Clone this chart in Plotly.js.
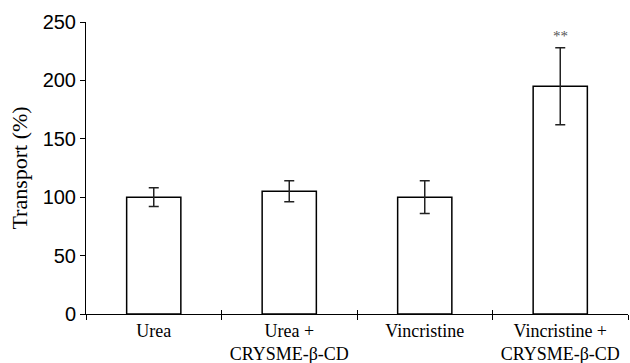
<!DOCTYPE html>
<html><head><meta charset="utf-8">
<script src="https://cdn.plot.ly/plotly-3.0.1.min.js"></script>
<style>html,body{margin:0;padding:0;background:#fff}#chart{width:630px;height:363px}</style>
</head><body><div id="chart"></div>
<script>
const categories = ["Urea", "Urea +<br>CRYSME-β-CD", "Vincristine", "Vincristine +<br>CRYSME-β-CD"];
const transport = [100, 105, 100, 195];
const errors = [8, 9, 14, 33];
const significance = ["", "", "", "**"];
const yTicks = [0, 50, 100, 150, 200, 250];
const boundaries = [-0.5, 0.5, 1.5, 2.5, 3.5];

const SERIF = "'Liberation Serif', 'Times New Roman', Times, serif";
const SANS = "'Liberation Sans', Arial, Helvetica, sans-serif";

const trace = {
  type: "bar", x: categories, y: transport,
  width: 0.4,
  marker: {color: "#ffffff", line: {color: "#000000", width: 1.5}},
  error_y: {type: "data", array: errors, visible: true, color: "#222", thickness: 1.5, width: 5},
  hoverinfo: "none"
};

const annotations = [];
categories.forEach((c, i) => {
  if (significance[i]) annotations.push({
    x: c, y: transport[i] + errors[i], xref: "x", yref: "y",
    text: significance[i], showarrow: false, yshift: 12,
    font: {family: SERIF, size: 15, color: "#555"}
  });
});

const layout = {
  width: 630, height: 363,
  margin: {l: 86, r: 2, t: 22, b: 49},
  paper_bgcolor: "#fff", plot_bgcolor: "#fff",
  showlegend: false,
  font: {family: SERIF, color: "#000"},
  xaxis: {
    type: "category", range: [-0.5, 3.5], showgrid: false, zeroline: false,
    showline: true, linecolor: "#000", linewidth: 1,
    ticks: "", ticklen: 0,
    tickfont: {family: SERIF, size: 18, color: "#000"}
  },
  xaxis2: {
    overlaying: "x", anchor: "y", type: "linear", range: [-0.5, 3.5],
    tickmode: "array", tickvals: boundaries, ticks: "outside", ticklen: 5, tickcolor: "#000", tickwidth: 1,
    showticklabels: false, showgrid: false, zeroline: false, showline: false
  },
  xaxis3: {
    overlaying: "x", anchor: "y", type: "linear", range: [-0.5, 3.5],
    tickmode: "array", tickvals: boundaries, ticks: "inside", ticklen: 4, tickcolor: "#000", tickwidth: 1,
    showticklabels: false, showgrid: false, zeroline: false, showline: false
  },
  yaxis: {
    range: [0, 250], tickmode: "array", tickvals: yTicks,
    showgrid: false, zeroline: false, showline: true, linecolor: "#000", linewidth: 1,
    ticks: "outside", ticklen: 5, tickcolor: "#000",
    tickfont: {family: SANS, size: 20, color: "#000"},
    title: {text: "Transport (%)", standoff: 8, font: {family: SERIF, size: 22, color: "#000"}}
  },
  annotations: annotations
};

const dummy2 = {type: "scatter", x: [], y: [], xaxis: "x2", yaxis: "y", hoverinfo: "none"};
const dummy3 = {type: "scatter", x: [], y: [], xaxis: "x3", yaxis: "y", hoverinfo: "none"};

Plotly.newPlot("chart", [trace, dummy2, dummy3], layout, {staticPlot: true, displayModeBar: false});
</script></body></html>
